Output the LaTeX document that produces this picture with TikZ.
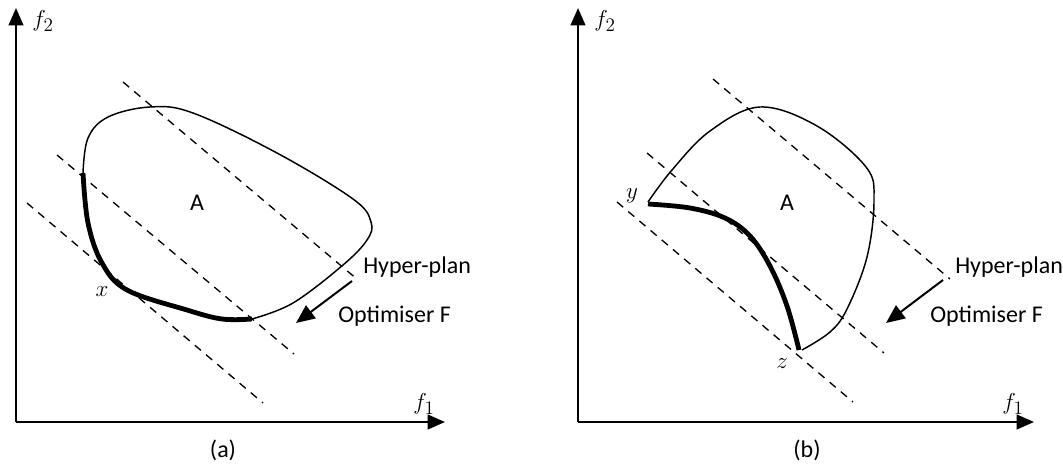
\documentclass[tikz,border=0pt]{standalone}
\usepackage{fontspec}
\setmainfont{Carlito}
\usetikzlibrary{arrows.meta, positioning}

\begin{document}
\begin{tikzpicture}[x=0.75pt, y=-0.75pt,
    axis/.style={line width=1.6pt, -{Triangle[length=13pt, width=11pt]}},
    hplan/.style={dashed, dash pattern=on 6pt off 5pt, line width=1pt},
    front/.style={line width=3.6pt},
    border/.style={line width=1.1pt},
    move/.style={line width=1.5pt, -{Triangle[length=14pt, width=12pt]}},
    lbl/.style={font=\fontsize{18}{20}\selectfont, inner sep=0pt},
    var/.style={font=\fontsize{19}{22}\selectfont, inner sep=0pt}]
  \useasboundingbox (0,0) rectangle (1063,464);

  % ---- (a)
  \coordinate (oa) at (16,422);
  \coordinate (ya) at (16,8);
  \coordinate (xa) at (445,422);
  \draw[axis] (oa) -- (ya);
  \draw[axis] (oa) -- (xa);
  \node[var] (f2a) at (43,21) {$f_2$};
  \node[var] (f1a) at (424,404) {$f_1$};

  \draw[hplan] (123,82) -- (358,280);
  \draw[hplan] (57,155) -- (294,354);
  \draw[hplan] (27,203) -- (263,403);

  \draw[border] plot[smooth, tension=0.6] coordinates {(252,319) (293,303) (343,265) (367,240) (371,222) (353,199) (277,153) (193,113) (150,107) (108,117) (88,138) (83,173)};
  \draw[front] plot[smooth, tension=0.6] coordinates {(83,173) (88,223) (102,263) (127,290) (187,310) (222,319) (252,319)};

  \node[lbl] (Aa) at (197,203) {A};
  \node[var] (xpt) at (102,292) {$x$};
  \node[lbl, anchor=west] (hpa) at (363,267) {Hyper-plan};
  \node[lbl, anchor=west] (opa) at (338,316) {Optimiser F};
  \coordinate (sa) at (352,281);
  \coordinate (ta) at (296,323);
  \draw[move] (sa) -- (ta);
  \node[lbl] (capa) at (223,450) {(a)};

  % ---- (b)
  \coordinate (ob) at (578,422);
  \coordinate (yb) at (578,8);
  \coordinate (xb) at (1034,422);
  \draw[axis] (ob) -- (yb);
  \draw[axis] (ob) -- (xb);
  \node[var] (f2b) at (605,21) {$f_2$};
  \node[var] (f1b) at (1013,404) {$f_1$};

  \draw[hplan] (713,79) -- (950,279);
  \draw[hplan] (647,153) -- (884,353);
  \draw[hplan] (617,202) -- (853,402);

  \draw[border] plot[smooth, tension=0.6] coordinates {(648,202) (672,170) (710,131) (760,107) (817,126) (866,167) (874,200) (867,257) (847,309) (830,332) (802,350)};
  \draw[front] plot[smooth, tension=0.6] coordinates {(648,204) (690,208) (725,218) (750,236) (770,266) (787,306) (799,350)};

  \node[lbl] (Ab) at (787,203) {A};
  \node[var] (ypt) at (632,196) {$y$};
  \node[var] (zpt) at (782,364) {$z$};
  \node[lbl, anchor=west] (hpb) at (955,267) {Hyper-plan};
  \node[lbl, anchor=west] (opb) at (930,316) {Optimiser F};
  \coordinate (sb) at (943,280);
  \coordinate (tb) at (886,323);
  \draw[move] (sb) -- (tb);
  \node[lbl] (capb) at (807,450) {(b)};
\end{tikzpicture}
\end{document}
